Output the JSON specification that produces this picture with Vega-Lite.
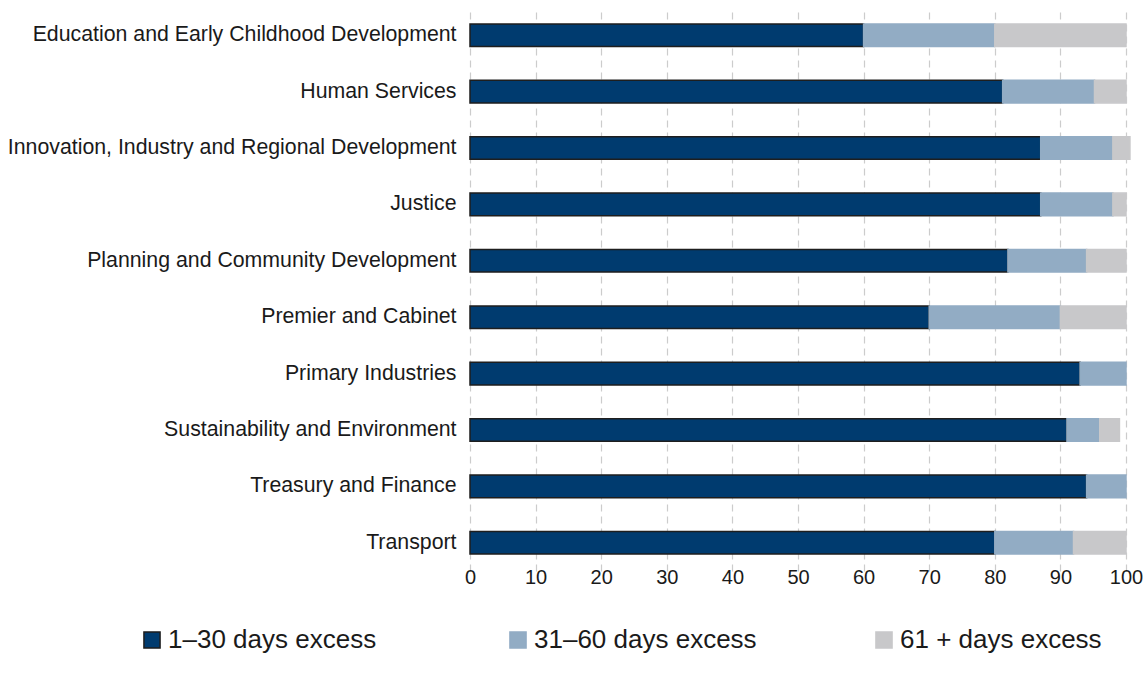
{
  "$schema": "https://vega.github.io/schema/vega-lite/v6.json",
  "width": 656,
  "height": 564,
  "autosize": {"type": "none"},
  "padding": {"left": 470, "top": 7, "right": 18, "bottom": 109},
  "background": "white",
  "data": {
    "values": [
      {"dept": "Education and Early Childhood Development", "band": "1–30 days excess", "k": 1, "v": 60},
      {"dept": "Education and Early Childhood Development", "band": "31–60 days excess", "k": 2, "v": 20},
      {"dept": "Education and Early Childhood Development", "band": "61 + days excess", "k": 3, "v": 20},
      {"dept": "Human Services", "band": "1–30 days excess", "k": 1, "v": 81.2},
      {"dept": "Human Services", "band": "31–60 days excess", "k": 2, "v": 14},
      {"dept": "Human Services", "band": "61 + days excess", "k": 3, "v": 4.8},
      {"dept": "Innovation, Industry and Regional Development", "band": "1–30 days excess", "k": 1, "v": 87},
      {"dept": "Innovation, Industry and Regional Development", "band": "31–60 days excess", "k": 2, "v": 11},
      {"dept": "Innovation, Industry and Regional Development", "band": "61 + days excess", "k": 3, "v": 2.6},
      {"dept": "Justice", "band": "1–30 days excess", "k": 1, "v": 87},
      {"dept": "Justice", "band": "31–60 days excess", "k": 2, "v": 11},
      {"dept": "Justice", "band": "61 + days excess", "k": 3, "v": 2},
      {"dept": "Planning and Community Development", "band": "1–30 days excess", "k": 1, "v": 82},
      {"dept": "Planning and Community Development", "band": "31–60 days excess", "k": 2, "v": 12},
      {"dept": "Planning and Community Development", "band": "61 + days excess", "k": 3, "v": 6},
      {"dept": "Premier and Cabinet", "band": "1–30 days excess", "k": 1, "v": 70},
      {"dept": "Premier and Cabinet", "band": "31–60 days excess", "k": 2, "v": 20},
      {"dept": "Premier and Cabinet", "band": "61 + days excess", "k": 3, "v": 10},
      {"dept": "Primary Industries", "band": "1–30 days excess", "k": 1, "v": 93},
      {"dept": "Primary Industries", "band": "31–60 days excess", "k": 2, "v": 7},
      {"dept": "Sustainability and Environment", "band": "1–30 days excess", "k": 1, "v": 91},
      {"dept": "Sustainability and Environment", "band": "31–60 days excess", "k": 2, "v": 5},
      {"dept": "Sustainability and Environment", "band": "61 + days excess", "k": 3, "v": 3},
      {"dept": "Treasury and Finance", "band": "1–30 days excess", "k": 1, "v": 94},
      {"dept": "Treasury and Finance", "band": "31–60 days excess", "k": 2, "v": 6},
      {"dept": "Transport", "band": "1–30 days excess", "k": 1, "v": 80},
      {"dept": "Transport", "band": "31–60 days excess", "k": 2, "v": 12},
      {"dept": "Transport", "band": "61 + days excess", "k": 3, "v": 8}
    ]
  },
  "config": {
    "view": {"stroke": null},
    "font": "Liberation Sans"
  },
  "mark": {"type": "bar", "strokeWidth": 1.5},
  "encoding": {
    "y": {
      "field": "dept",
      "type": "nominal",
      "sort": null,
      "scale": {"paddingInner": 0.6, "paddingOuter": 0.3},
      "axis": {
        "title": null,
        "domain": false,
        "ticks": false,
        "labelFont": "Liberation Sans",
        "labelFontSize": 21.3,
        "labelColor": "#1a1a1a",
        "labelPadding": 14,
        "labelLimit": 600
      }
    },
    "x": {
      "field": "v",
      "type": "quantitative",
      "stack": "zero",
      "scale": {"domain": [0, 100], "nice": false, "clamp": false},
      "axis": {
        "title": null,
        "values": [0, 10, 20, 30, 40, 50, 60, 70, 80, 90, 100],
        "domain": false,
        "ticks": false,
        "grid": true,
        "gridColor": "#cccccc",
        "gridDash": [7, 5],
        "gridWidth": 1.2,
        "labelFlush": false,
        "labelOverlap": false,
        "labelFont": "Liberation Sans",
        "labelFontSize": 20,
        "labelColor": "#1a1a1a",
        "labelPadding": -4
      }
    },
    "color": {
      "field": "band",
      "type": "nominal",
      "scale": {
        "domain": ["1–30 days excess", "31–60 days excess", "61 + days excess"],
        "range": ["#003b6f", "#92acc4", "#c8c8ca"]
      },
      "legend": {
        "title": null,
        "orient": "none",
        "legendX": -331,
        "legendY": 620,
        "direction": "horizontal",
        "columns": 3,
        "gridAlign": "all",
        "columnPadding": 114,
        "symbolType": "square",
        "symbolSize": 260,
        "symbolStrokeWidth": 1.5,
        "symbolOffset": 0,
        "labelOffset": 3,
        "labelFont": "Liberation Sans",
        "labelFontSize": 26,
        "labelColor": "#1a1a1a",
        "labelLimit": 400
      }
    },
    "stroke": {
      "field": "band",
      "type": "nominal",
      "scale": {
        "domain": ["1–30 days excess", "31–60 days excess", "61 + days excess"],
        "range": ["#1e1e1e", "#92acc4", "#c8c8ca"]
      },
      "legend": null
    },
    "order": {"field": "k", "type": "quantitative"}
  }
}
